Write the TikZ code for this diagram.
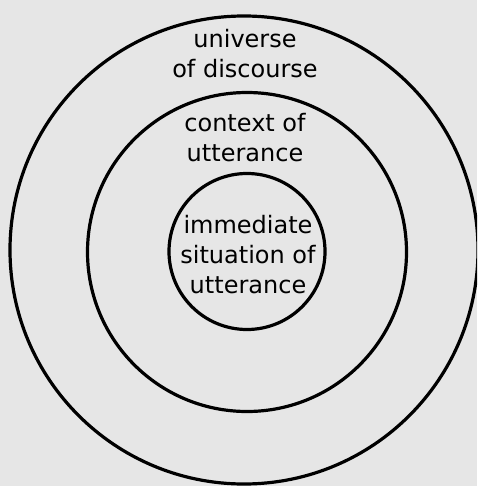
\documentclass[tikz,border=0pt]{standalone}
\usepackage{fontspec}
\setmainfont{DejaVu Sans}
\definecolor{paper}{HTML}{E6E6E6}
\definecolor{ink}{HTML}{000000}
\begin{document}
\begin{tikzpicture}[x=1pt,y=-1pt,
  ring/.style={circle,draw=ink,line width=3.2pt,inner sep=0pt},
  ringtext/.style={align=center,inner sep=0pt,anchor=base,font=\fontsize{24}{30}\selectfont}
]
\fill[paper] (0,0) rectangle (477,486);
\useasboundingbox (0,0) rectangle (477,486);
\clip (0,0) rectangle (477,486);
\node[ring,minimum size=468pt] (discourse) at (244,250) {};
\node[ring,minimum size=319pt] (context) at (247,252) {};
\node[ring,minimum size=156pt] (situation) at (247,251.5) {};
\node[ringtext] (discoursetext) at (245,78) {universe\\of discourse};
\node[ringtext] (contexttext) at (245,161.5) {context of\\utterance};
\node[ringtext] (situationtext) at (248,293) {immediate\\situation of\\utterance};
\end{tikzpicture}
\end{document}
